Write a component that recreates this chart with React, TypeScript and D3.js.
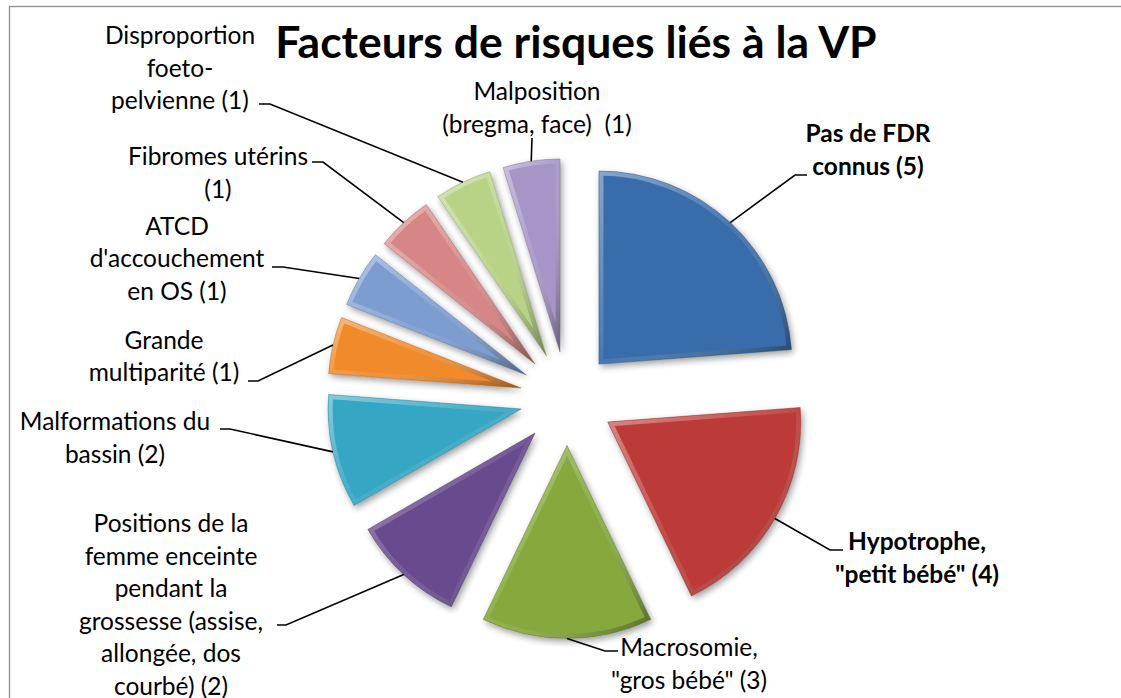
import React from "react";
import * as d3 from "d3";

// ---------- data ----------
const categories = [
  "Pas de FDR connus",
  "Hypotrophe, \"petit bébé\"",
  "Macrosomie, \"gros bébé\"",
  "Positions de la femme enceinte pendant la grossesse (assise, allongée, dos courbé)",
  "Malformations du bassin",
  "Grande multiparité",
  "ATCD d'accouchement en OS",
  "Fibromes utérins",
  "Disproportion foeto-pelvienne",
  "Malposition (bregma, face)",
];
const values = [5, 4, 3, 2, 2, 1, 1, 1, 1, 1];
const title = "Facteurs de risques liés à la VP";

// wrapped label text ({v} = value)
const labelLines = [
  ["Pas de FDR", "connus ({v})"],
  ["Hypotrophe,", "\"petit bébé\" ({v})"],
  ["Macrosomie,", "\"gros bébé\" ({v})"],
  ["Positions de la", "femme enceinte", "pendant la", "grossesse (assise,", "allongée, dos", "courbé) ({v})"],
  ["Malformations du", "bassin ({v})"],
  ["Grande", "multiparité ({v})"],
  ["ATCD", "d'accouchement", "en OS ({v})"],
  ["Fibromes utérins", "({v})"],
  ["Disproportion", "foeto-", "pelvienne ({v})"],
  ["Malposition", "(bregma, face)  ({v})"],
];
const boldLabels = [true, true, false, false, false, false, false, false, false, false];

// ---------- styles / layout ----------
const colors = [
  "#376CAA", "#BC3A37", "#86A83E", "#684C8E", "#34A6C4",
  "#F08A2C", "#7D9CD0", "#D68684", "#B8D286", "#A696C8",
];
const W = 1121;
const H = 698;
const CX = 567;
const CY = 398.5;
const R = 193;
const EXPLODE = 47;
const FONT = "Lato, 'Open Sans', sans-serif";
const FS = 24.5;
const LH = 32.5;

const labelCenterX = [868, 917, 689, 171, 115, 164, 177, 218, 180, 537];
const labelFirstBaseline = [142, 550, 656, 532, 430, 348.5, 234.5, 165, 44, 100];
const leaderElbow: [number, number][] = [
  [795, 175], [830, 550], [605, 651], [286, 625], [230, 429],
  [258, 381], [283, 267], [323, 162], [270, 104], [532, 138],
];
const leaderEnd: [number, number][] = [
  [807, 175], [843, 550], [618, 651], [277, 625], [220, 429],
  [248, 381], [272, 267], [312, 162], [259, 104], [532, 138],
];

export default function App() {
  const arcs = d3.pie<number>().sort(null).value((d) => d).startAngle(0).endAngle(2 * Math.PI)(values);
  const arcGen = d3.arc<d3.PieArcDatum<number>>().innerRadius(0).outerRadius(R);

  return (
    <svg
      width={W}
      height={H}
      style={{ position: "absolute", left: 0, top: 0, background: "#fff" }}
      fontFamily={FONT}
    >
      <defs>
        <filter id="shadow" x="-30%" y="-30%" width="160%" height="160%">
          <feGaussianBlur in="SourceAlpha" stdDeviation="3.5" />
          <feOffset dx="2" dy="3" result="blur" />
          <feComponentTransfer>
            <feFuncA type="linear" slope="0.4" />
          </feComponentTransfer>
          <feMerge>
            <feMergeNode />
            <feMergeNode in="SourceGraphic" />
          </feMerge>
        </filter>
        <linearGradient id="bevel" x1="0" y1="0" x2="1" y2="1">
          <stop offset="0" stopColor="#fff" stopOpacity="0.4" />
          <stop offset="0.5" stopColor="#fff" stopOpacity="0.08" />
          <stop offset="1" stopColor="#000" stopOpacity="0.4" />
        </linearGradient>
        {arcs.map((a, i) => (
          <clipPath id={`clip-${i}`} key={i}>
            <path d={arcGen(a) || ""} />
          </clipPath>
        ))}
      </defs>

      {/* chart frame */}
      <rect x={9.5} y={6.5} width={W + 20} height={H + 20} fill="none" stroke="#8c8c8c" strokeWidth={1.3} />

      {/* title */}
      <text x={576} y={58} textAnchor="middle" fontSize={44.5} fontWeight="bold" fill="#000">
        {title}
      </text>

      {/* slices */}
      {arcs.map((a, i) => {
        const mid = (a.startAngle + a.endAngle) / 2;
        const dx = Math.sin(mid) * EXPLODE;
        const dy = -Math.cos(mid) * EXPLODE;
        const d = arcGen(a) || "";
        return (
          <g key={categories[i]} transform={`translate(${CX + dx},${CY + dy})`}>
            <path d={d} fill={colors[i]} filter="url(#shadow)" />
            <path d={d} fill="none" stroke="url(#bevel)" strokeWidth={9} clipPath={`url(#clip-${i})`} />
            <path d={d} fill="none" stroke={d3.color(colors[i])!.darker(0.8).toString()} strokeWidth={0.8} strokeOpacity={0.6} />
          </g>
        );
      })}

      {/* leader lines */}
      {arcs.map((a, i) => {
        const mid = (a.startAngle + a.endAngle) / 2;
        const sx = CX + Math.sin(mid) * (R + EXPLODE);
        const sy = CY - Math.cos(mid) * (R + EXPLODE);
        const [ex, ey] = leaderElbow[i];
        const [tx, ty] = leaderEnd[i];
        return (
          <polyline
            key={`l-${i}`}
            points={`${sx},${sy} ${ex},${ey} ${tx},${ty}`}
            fill="none"
            stroke="#000"
            strokeWidth={1.6}
          />
        );
      })}

      {/* labels */}
      {labelLines.map((lines, i) => (
        <text
          key={`t-${i}`}
          textAnchor="middle"
          fontSize={FS}
          fontWeight={boldLabels[i] ? "bold" : "normal"}
          fill="#000"
        >
          {lines.map((ln, j) => (
            <tspan key={j} x={labelCenterX[i]} y={labelFirstBaseline[i] + j * LH} style={{ whiteSpace: "pre" }}>
              {ln.replace("{v}", String(values[i]))}
            </tspan>
          ))}
        </text>
      ))}
    </svg>
  );
}
